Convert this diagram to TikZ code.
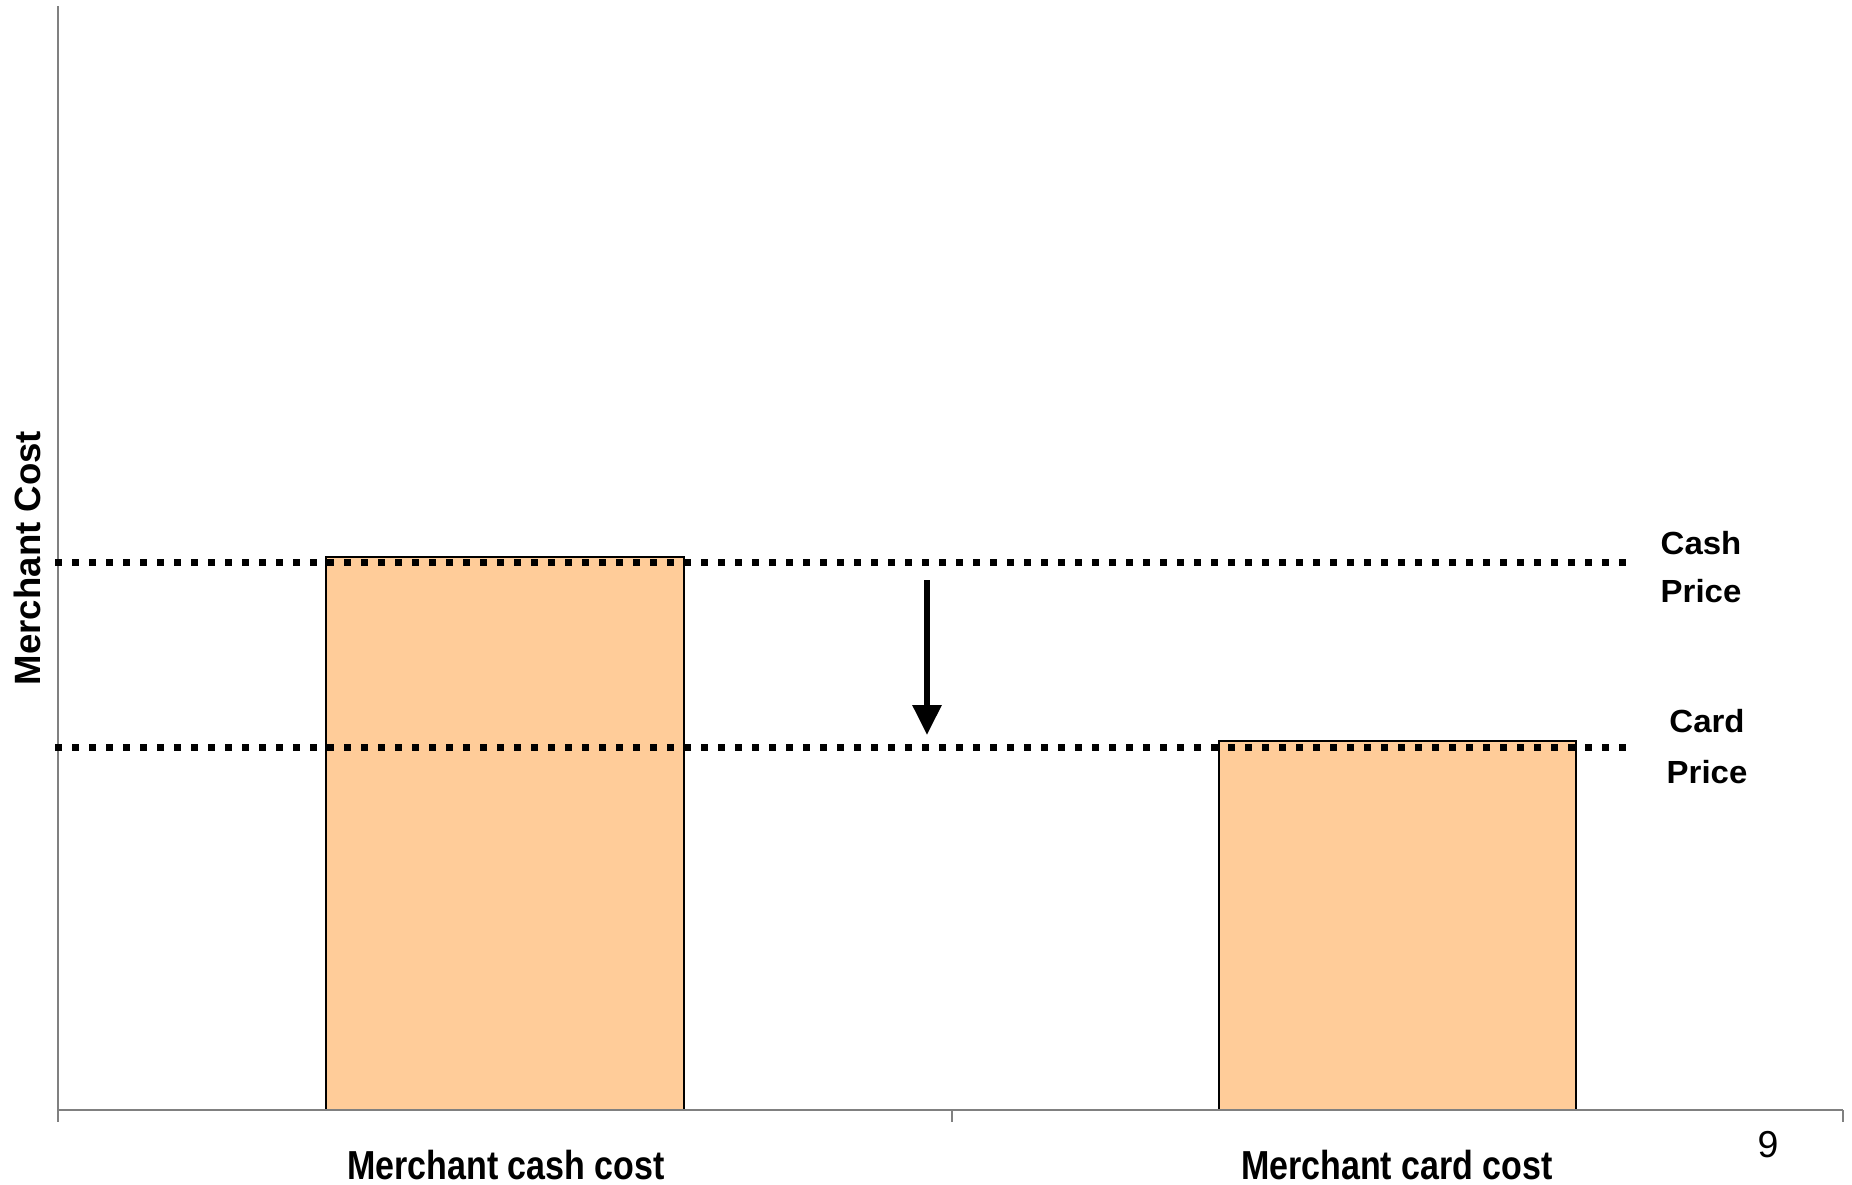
\documentclass[tikz,border=0pt]{standalone}
\usepackage{fontspec}
\setmainfont{Liberation Sans}
\usetikzlibrary{arrows.meta}
\definecolor{barfill}{HTML}{FFCC99}
\definecolor{axisgray}{HTML}{808080}
\begin{document}
\begin{tikzpicture}[x=0.5pt,y=-0.5pt,
  bar/.style={draw=black,line width=1pt,fill=barfill},
  axisline/.style={draw=axisgray,line width=1pt},
  priceline/.style={line width=3.5pt,dash pattern=on 3.5pt off 5pt},
  pricelbl/.style={font=\bfseries\fontsize{16}{19}\selectfont,anchor=base,inner sep=0pt,xscale=1.03},
  catlbl/.style={font=\bfseries\fontsize{20.25}{24}\selectfont,anchor=base,inner sep=0pt,xscale=0.84},
  ylbl/.style={font=\bfseries\fontsize{18.3}{22}\selectfont,inner sep=0pt,rotate=90},
  pagelbl/.style={font=\fontsize{18.75}{22}\selectfont,anchor=base,inner sep=0pt}]
\useasboundingbox (0,0) rectangle (1852,1184);
\fill[white] (0,0) rectangle (1852,1184);

% bars
\draw[bar] (326,557) rectangle (684,1110);
\draw[bar] (1219,741) rectangle (1576,1110);

% axes and ticks
\coordinate (ytop) at (58,6);
\coordinate (origin) at (58,1110);
\coordinate (ybot) at (58,1122);
\coordinate (xend) at (1843,1110);
\draw[axisline] (ytop) -- (ybot);
\draw[axisline] (origin) -- (xend);
\draw[axisline] (952,1110) -- (952,1122);
\draw[axisline] (1843,1110) -- (1843,1122);

% price levels
\coordinate (cashL) at (55,562);
\coordinate (cashR) at (1632,562);
\coordinate (cardL) at (55,747);
\coordinate (cardR) at (1632,747);
\draw[priceline] (cashL) -- (cashR);
\draw[priceline] (cardL) -- (cardR);

% price drop arrow
\coordinate (arrtop) at (927,580);
\coordinate (arrtip) at (927,735);
\draw[line width=3pt,-{Triangle[width=14pt,length=15pt]}] (arrtop) -- (arrtip);

% labels
\node[pricelbl] (cash1) at (1701,554) {Cash};
\node[pricelbl] (cash2) at (1701,602) {Price};
\node[pricelbl] (card1) at (1707,732) {Card};
\node[pricelbl] (card2) at (1707,783) {Price};
\node[ylbl] (ylabel) at (27,558) {Merchant Cost};
\node[catlbl] (cat1) at (506,1179) {Merchant cash cost};
\node[catlbl] (cat2) at (1397,1179) {Merchant card cost};
\node[pagelbl] (pagenum) at (1768,1157) {9};
\end{tikzpicture}
\end{document}
